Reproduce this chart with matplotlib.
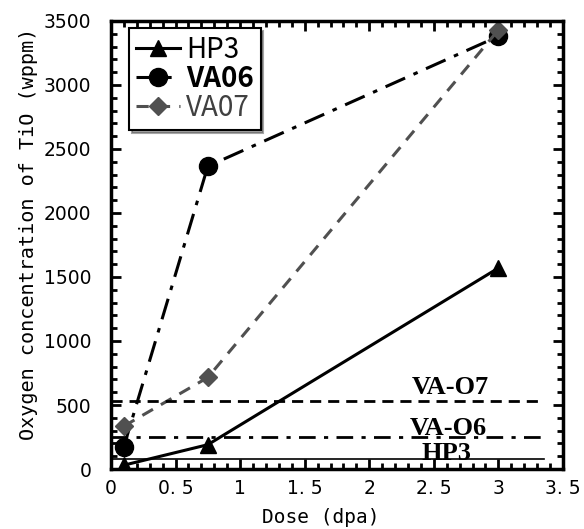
import matplotlib
matplotlib.use("Agg")
import matplotlib.pyplot as plt
from matplotlib.ticker import MultipleLocator, FuncFormatter

# data
dose = [0.1, 0.75, 3.0]
hp3 = [30, 190, 1570]
va06 = [175, 2365, 3380]
va07 = [335, 715, 3430]

# initial oxygen levels (horizontal reference lines)
ref_names = ["VA-O7", "VA-O6", "HP3"]
ref_levels = [535, 250, 75]
ref_end = 3.35

plt.rcParams['font.family'] = ['DejaVu Sans']

fig = plt.figure(figsize=(5.84, 5.29), dpi=100)
ax = fig.add_axes([0.190, 0.1134, 0.774, 0.847])

# curves
ax.plot(dose, hp3, color='black', lw=2.2, ls='-', marker='^', ms=11, label='HP3')
ax.plot(dose, va06, color='black', lw=2.2, ls=(0, (7, 3, 1.5, 3)), marker='o', ms=13, label='VA06')
ax.plot(dose, va07, color='#505050', lw=2.2, ls=(0, (4, 3)), marker='D', ms=9, label='VA07')

# reference lines
ax.plot([0, ref_end], [ref_levels[0]] * 2, color='black', lw=2, ls=(0, (4, 2.5)))
ax.plot([0, ref_end], [ref_levels[1]] * 2, color='black', lw=2, ls=(0, (6, 3, 1.5, 3)))
ax.plot([0, ref_end], [ref_levels[2]] * 2, color='black', lw=1.2, ls='-')

txt = dict(family='Liberation Serif', fontweight='bold', fontsize=19, ha='center', va='bottom')
ax.text(2.63, ref_levels[0] + 10, ref_names[0], **txt)
ax.text(2.61, ref_levels[1] - 25, ref_names[1], **txt)
ax.text(2.6, ref_levels[2] - 40, ref_names[2], **txt)

ax.set_xlim(0, 3.5)
ax.set_ylim(0, 3500)
ax.xaxis.set_major_locator(MultipleLocator(0.5))
ax.xaxis.set_minor_locator(MultipleLocator(0.1))
ax.yaxis.set_major_locator(MultipleLocator(500))
ax.yaxis.set_minor_locator(MultipleLocator(100))


def fmt_x(v, pos):
    if abs(v - round(v)) < 1e-6:
        return '%d' % round(v)
    return '%d. 5' % int(v)


ax.xaxis.set_major_formatter(FuncFormatter(fmt_x))
ax.tick_params(which='both', direction='in', top=True, right=True, width=2)
ax.tick_params(which='major', length=7, labelsize=13.5)
ax.tick_params(which='minor', length=4)
ax.tick_params(axis='x', which='major', pad=7)
ax.tick_params(axis='y', which='major', pad=14)
for s in ax.spines.values():
    s.set_linewidth(2.5)

ax.set_xlabel('Dose (dpa)', family='DejaVu Sans Mono', fontsize=14)
ax.xaxis.set_label_coords(0.4635, -0.087)
ax.set_ylabel('Oxygen concentration of TiO (wppm)', family='DejaVu Sans Mono', fontsize=14.5)
ax.yaxis.set_label_coords(-0.1615, 0.5245)

leg = ax.legend(loc='upper left', bbox_to_anchor=(0.04, 0.984), borderaxespad=0,
                prop={'family': ['Noto Sans CJK JP', 'DejaVu Sans'], 'size': 20},
                frameon=True, fancybox=False, shadow=True, edgecolor='black',
                handlelength=1.6, handletextpad=0.2, borderpad=0.25, labelspacing=0.0)
leg.get_frame().set_linewidth(1.5)
leg.get_texts()[1].set_fontweight('bold')
leg.get_texts()[2].set_color('#404040')

fig.savefig('out.png', dpi=100)
